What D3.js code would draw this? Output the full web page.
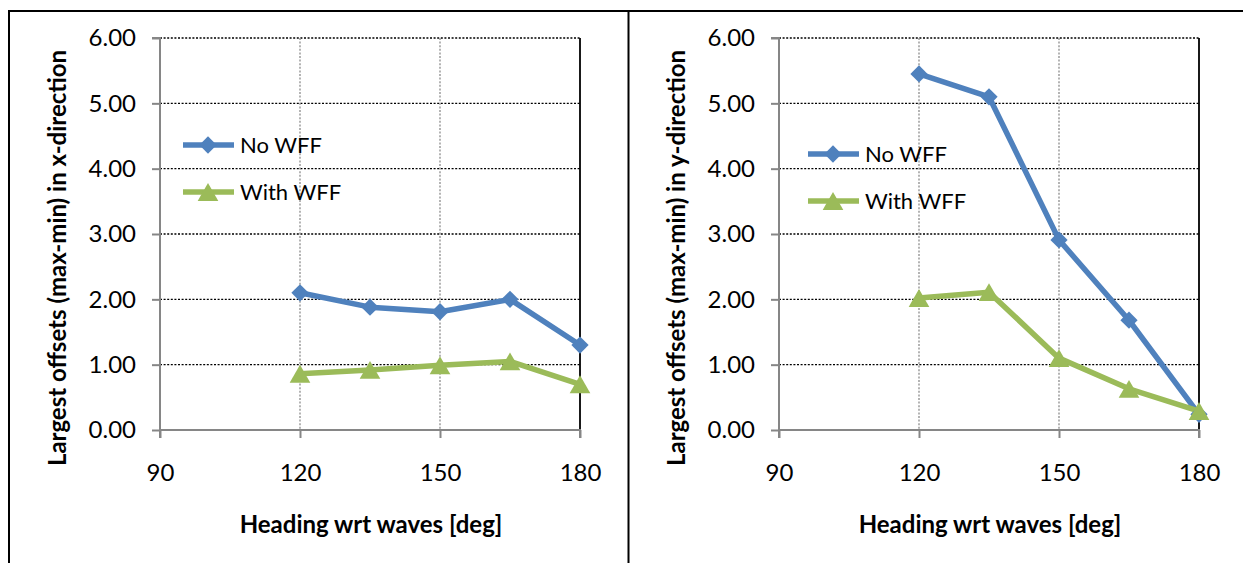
<!DOCTYPE html>
<html><head><meta charset="utf-8">
<script src="https://cdn.jsdelivr.net/npm/d3@7"></script>
<style>body{margin:0;background:#fff;} svg{display:block;}</style>
</head><body>
<svg id="c" width="1243" height="563"></svg>
<script>
const headings = [120, 135, 150, 165, 180];
const xNoWFF = [2.10, 1.88, 1.81, 2.00, 1.30];
const xWithWFF = [0.86, 0.92, 0.99, 1.05, 0.70];
const yNoWFF = [5.45, 5.10, 2.91, 1.68, 0.24];
const yWithWFF = [2.02, 2.11, 1.10, 0.63, 0.29];
const xTicks = [90, 120, 150, 180];
const yTicks = [0, 1, 2, 3, 4, 5, 6];
const seriesNames = ["No WFF", "With WFF"];
const yTitles = ["Largest offsets (max-min) in x-direction", "Largest offsets (max-min) in y-direction"];
const xTitle = "Heading wrt waves [deg]";

const svg = d3.select("#c");
const FONT = "Lato, 'Open Sans', sans-serif";
const BLUE = "#4F81BD", GREEN = "#9BBB59", AXIS = "#868686";

// Frame lines
svg.append("line").attr("x1", 9).attr("x2", 1243).attr("y1", 11).attr("y2", 11).attr("stroke", "#000").attr("stroke-width", 2);
svg.append("line").attr("x1", 9).attr("x2", 9).attr("y1", 10).attr("y2", 563).attr("stroke", "#000").attr("stroke-width", 2);
svg.append("line").attr("x1", 628.5).attr("x2", 628.5).attr("y1", 10).attr("y2", 563).attr("stroke", "#000").attr("stroke-width", 2);

function panel(ox, noW, withW, ytitle, legX, legY) {
  const x = d3.scaleLinear().domain([90, 180]).range([ox + 160, ox + 580]);
  const y = d3.scaleLinear().domain([0, 6]).range([430, 38]);
  const g = svg.append("g");

  // horizontal gridlines
  g.selectAll(".hg").data(yTicks.filter(d => d > 0)).enter().append("line")
    .attr("x1", x(90)).attr("x2", x(180)).attr("y1", d => y(d)).attr("y2", d => y(d))
    .attr("stroke", "#000").attr("stroke-width", 1.4).attr("stroke-dasharray", "2,1.6");
  // vertical gridlines
  g.selectAll(".vg").data(xTicks.filter(d => d > 90 && d < 180)).enter().append("line")
    .attr("x1", d => x(d)).attr("x2", d => x(d)).attr("y1", y(6)).attr("y2", y(0))
    .attr("stroke", "#8c8c8c").attr("stroke-width", 1.3).attr("stroke-dasharray", "2,1.6");
  // right border
  g.append("line").attr("x1", x(180)).attr("x2", x(180)).attr("y1", y(6)).attr("y2", y(0))
    .attr("stroke", "#000").attr("stroke-width", 1.8);

  // axes
  const yAxis = d3.axisLeft(y).tickValues(yTicks).tickFormat(d3.format(".2f")).tickSize(8).tickPadding(16);
  const ya = g.append("g").attr("transform", `translate(${x(90)},0)`).call(yAxis);
  const xAxis = d3.axisBottom(x).tickValues(xTicks).tickFormat(d3.format("d")).tickSize(8).tickPadding(26);
  const xa = g.append("g").attr("transform", `translate(0,${y(0)})`).call(xAxis);
  [ya, xa].forEach(a => {
    a.select(".domain").attr("stroke", AXIS).attr("stroke-width", 2);
    a.selectAll(".tick line").attr("stroke", AXIS).attr("stroke-width", 2);
    a.selectAll("text").attr("fill", "#000").style("font-family", FONT).style("font-size", "24px");
  });
  ya.select(".domain").attr("d", `M-8,${y(6)}H0V${y(0)}`);
  xa.select(".domain").attr("d", `M${x(90)},8V0H${x(180)}V8`);

  // lines
  const line = d3.line().x((d, i) => x(headings[i])).y(d => y(d));
  g.append("path").datum(noW).attr("d", line).attr("fill", "none").attr("stroke", BLUE).attr("stroke-width", 5.5).attr("stroke-linejoin", "round");
  g.append("path").datum(withW).attr("d", line).attr("fill", "none").attr("stroke", GREEN).attr("stroke-width", 5.5).attr("stroke-linejoin", "round");

  const diamond = d3.symbol().type(d3.symbolDiamond2).size(190);
  const tri = d3.symbol().type(d3.symbolTriangle).size(185);
  const triOff = Math.sqrt(185 / (Math.sqrt(3) * 3)) / 2; // centre the triangle's box on the value
  g.selectAll(".dm").data(noW).enter().append("path").attr("d", diamond)
    .attr("transform", (d, i) => `translate(${x(headings[i])},${y(d)})`).attr("fill", BLUE);
  g.selectAll(".tr").data(withW).enter().append("path").attr("d", tri)
    .attr("transform", (d, i) => `translate(${x(headings[i])},${y(d) + triOff})`).attr("fill", GREEN);

  // legend
  const items = [{n: seriesNames[0], c: BLUE, s: diamond, o: 0}, {n: seriesNames[1], c: GREEN, s: tri, o: triOff}];
  items.forEach((it, k) => {
    const ly = legY + k * 47;
    g.append("line").attr("x1", legX).attr("x2", legX + 51).attr("y1", ly).attr("y2", ly).attr("stroke", it.c).attr("stroke-width", 5.5);
    g.append("path").attr("d", it.s).attr("transform", `translate(${legX + 25},${ly + it.o})`).attr("fill", it.c);
    g.append("text").attr("x", legX + 57).attr("y", ly).attr("dy", "0.35em").text(it.n)
      .style("font-family", FONT).style("font-size", "22px").attr("fill", "#000");
  });

  // titles
  g.append("text").attr("transform", `translate(${ox + 66},258) rotate(-90)`)
    .attr("text-anchor", "middle").text(ytitle)
    .style("font-family", FONT).style("font-size", "24px").style("font-weight", "bold");
  g.append("text").attr("x", (x(90) + x(180)) / 2 + 1).attr("y", 533).attr("text-anchor", "middle").text(xTitle)
    .style("font-family", FONT).style("font-size", "24px").style("font-weight", "bold");
}

panel(0, xNoWFF, xWithWFF, yTitles[0], 183, 145);
panel(619, yNoWFF, yWithWFF, yTitles[1], 808, 154);
</script>
</body></html>
